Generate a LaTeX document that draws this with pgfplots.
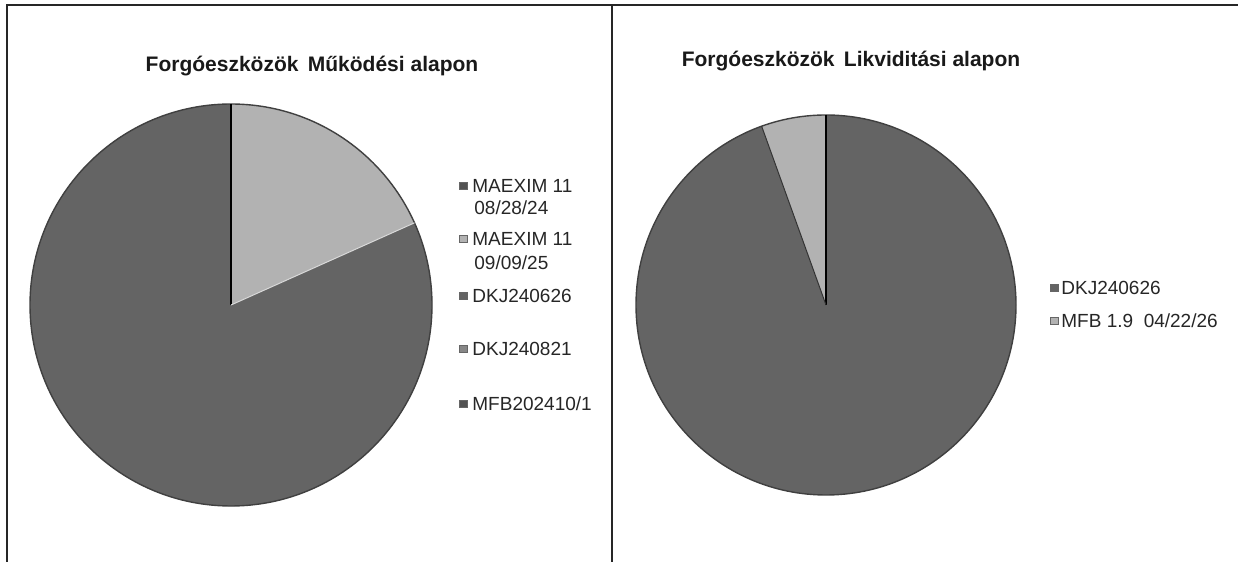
\documentclass[border=0pt]{standalone}
\usepackage{fontspec}
\setmainfont{Liberation Sans}
\usepackage{pgfplots}
\usepackage{pgfplotstable}
\pgfplotsset{compat=1.18}

\definecolor{sliceDark}{RGB}{100,100,100}
\definecolor{sliceLight}{RGB}{178,178,178}
\definecolor{sliceMid}{RGB}{135,135,135}
\definecolor{sliceDeep}{RGB}{82,82,82}

% Forgóeszközök Működési alapon (percent of total)
\pgfplotstableread{
idx value
0 0
1 18.3
2 81.7
3 0
4 0
}\mukodesi
% Forgóeszközök Likviditási alapon (percent of total)
\pgfplotstableread{
idx value
0 94.5
1 5.5
}\likvid

\newcommand\getval[3]{\pgfplotstablegetelem{#1}{value}\of#2\let#3\pgfplotsretval}

% color, start pct, end pct, radius
\newcommand\sector[4]{%
  \pgfmathsetmacro\sa{90-3.6*(#2)}%
  \pgfmathsetmacro\se{90-3.6*(#3)}%
  \edef\temp{\noexpand\fill[#1] (axis cs:0,0) -- ++(\sa:#4) arc[start angle=\sa, end angle=\se, radius=#4] -- cycle;}%
  \temp}
\newcommand\spoke[4]{% color, pct, radius, width
  \pgfmathsetmacro\sa{90-3.6*(#2)}%
  \edef\temp{\noexpand\draw[#1, line width=#4] (axis cs:0,0) -- ++(\sa:#3);}%
  \temp}

\newcommand\legsq[3]{\node[fill=#3, draw=black!60, line width=0.3pt, minimum size=3.8pt, inner sep=0pt] at (#1,#2) {};}
\newcommand\legtxt[3]{\node[anchor=west, inner sep=0pt, text=black!85, font=\fontsize{9.5}{11}\selectfont] at (#1,#2) {#3};}

\begin{document}
\begin{tikzpicture}[x=0.5pt,y=0.5pt]
\useasboundingbox (0,0) rectangle (1238,562);
% frame
\draw[line width=1pt, black!85] (7,0) -- (7,557) -- (1238,557);
\draw[line width=1pt, black!85] (612,0) -- (612,557);

% ---- left pie
\getval{0}{\mukodesi}{\mA}
\getval{1}{\mukodesi}{\mB}
\getval{2}{\mukodesi}{\mC}
\getval{3}{\mukodesi}{\mD}
\getval{4}{\mukodesi}{\mE}
\pgfmathsetmacro\cA{\mA}
\pgfmathsetmacro\cB{\cA+\mB}
\pgfmathsetmacro\cC{\cB+\mC}
\pgfmathsetmacro\cD{\cC+\mD}
\pgfmathsetmacro\cE{\cD+\mE}

\node[font=\bfseries\fontsize{10.5}{12}\selectfont, text=black!90] at (312,496) {Forgóeszközök\, Működési alapon};

\begin{axis}[hide axis, x=0.5pt, y=0.5pt, xmin=-205, xmax=205, ymin=-205, ymax=205,
  clip=false, at={(231,257)}, anchor=origin]
\sector{sliceDeep}{0}{\cA}{100.5pt}
\sector{sliceLight}{\cA}{\cB}{100.5pt}
\sector{sliceDark}{\cB}{\cC}{100.5pt}
\sector{sliceMid}{\cC}{\cD}{100.5pt}
\sector{sliceDeep}{\cD}{\cE}{100.5pt}
\draw[black!75, line width=0.7pt] (axis cs:0,0) circle[radius=100.5pt];
\spoke{black}{0}{100.5pt}{0.8pt}
\spoke{black!15}{\cB}{100.5pt}{0.5pt}
\end{axis}

\legsq{463}{376}{sliceDeep}
\legtxt{472}{376}{MAEXIM 11}
\legtxt{474}{354}{08/28/24}
\legsq{463}{323}{sliceLight}
\legtxt{472}{323}{MAEXIM 11}
\legtxt{474}{299}{09/09/25}
\legsq{463}{266}{sliceDark}
\legtxt{472}{266}{DKJ240626}
\legsq{463}{213}{sliceMid}
\legtxt{472}{213}{DKJ240821}
\legsq{463}{158}{sliceDeep}
\legtxt{472}{158}{MFB202410/1}

% ---- right pie
\getval{0}{\likvid}{\lA}
\getval{1}{\likvid}{\lB}
\pgfmathsetmacro\dA{\lA}
\pgfmathsetmacro\dB{\dA+\lB}

\node[font=\bfseries\fontsize{10.5}{12}\selectfont, text=black!90] at (851,501) {Forgóeszközök\, Likviditási alapon};

\begin{axis}[hide axis, x=0.5pt, y=0.5pt, xmin=-205, xmax=205, ymin=-205, ymax=205,
  clip=false, at={(826,257)}, anchor=origin]
\sector{sliceDark}{0}{\dA}{95pt}
\sector{sliceLight}{\dA}{\dB}{95pt}
\draw[black!75, line width=0.7pt] (axis cs:0,0) circle[radius=95pt];
\spoke{black}{0}{95pt}{0.8pt}
\spoke{black!80}{\dA}{95pt}{0.5pt}
\end{axis}

\legsq{1054}{274}{sliceDark}
\legtxt{1061}{274}{DKJ240626}
\legsq{1054}{241}{sliceLight}
\legtxt{1061}{241}{MFB 1.9\ \ 04/22/26}
\end{tikzpicture}
\end{document}
